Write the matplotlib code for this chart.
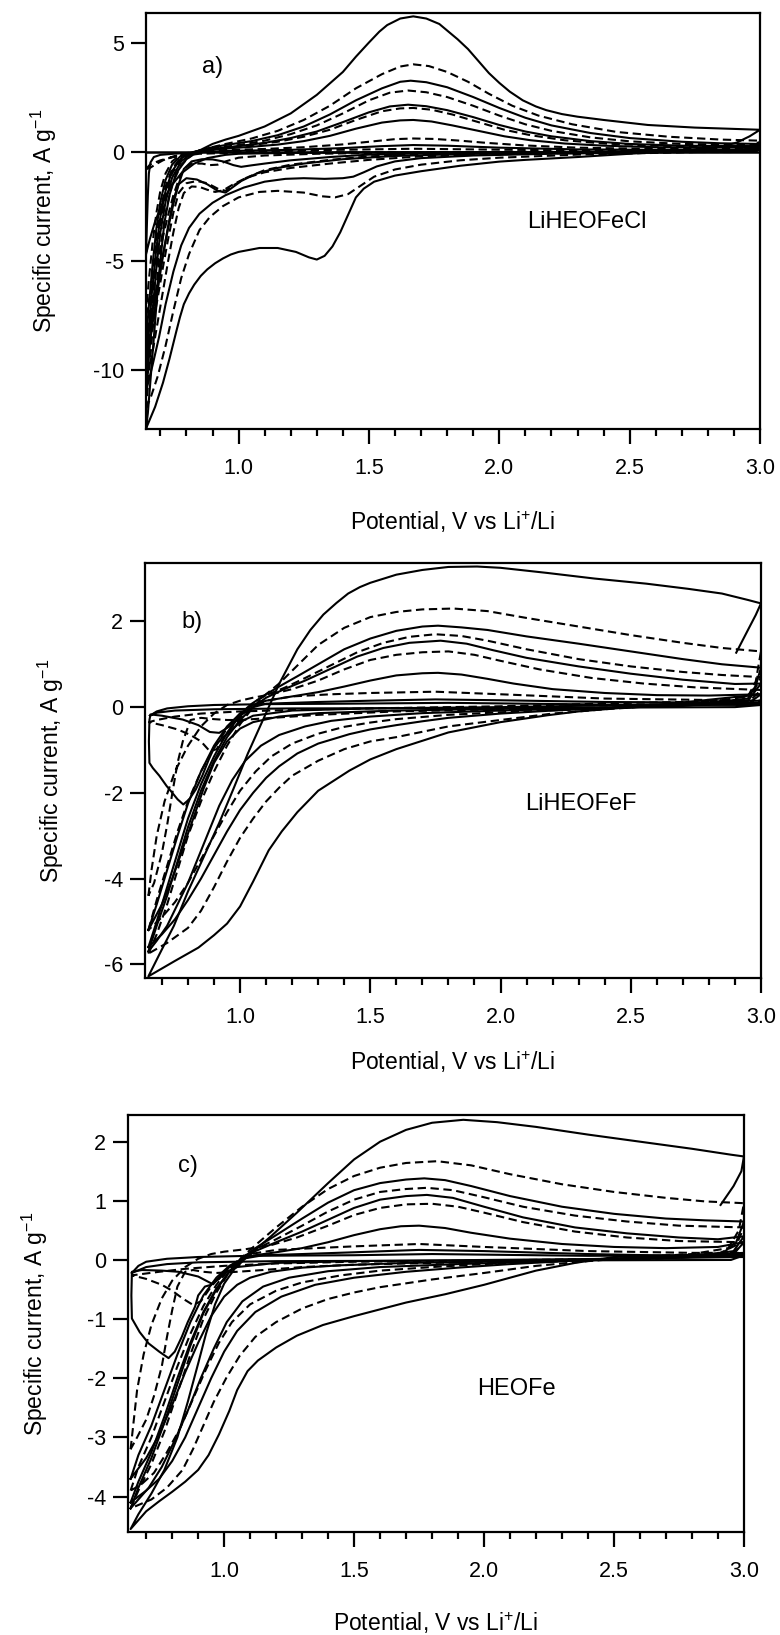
import numpy as np
import matplotlib
matplotlib.use('Agg')
import matplotlib.pyplot as plt
from matplotlib.ticker import MultipleLocator

plt.rcParams['font.family'] = ['Liberation Sans', 'DejaVu Sans']
plt.rcParams['axes.unicode_minus'] = False
plt.rcParams['mathtext.fontset'] = 'custom'
plt.rcParams['mathtext.rm'] = 'Liberation Sans'

# ---------------------------------------------------------
# Panel a) LiHEOFeCl : (potential V, specific current A/g) per cycle
# ---------------------------------------------------------
A_S1 = [(0.645, -12.7), (0.652, -12.0), (0.66, -10.8), (0.672, -9.0), (0.685, -7.0), (0.70, -5.0), (0.715, -3.3),
        (0.735, -2.0), (0.76, -1.0), (0.80, -0.35), (0.85, 0.05), (0.90, 0.35), (0.95, 0.55), (1.00, 0.72),
        (1.10, 1.15), (1.20, 1.75), (1.30, 2.6), (1.40, 3.65), (1.45, 4.35), (1.50, 5.0), (1.54, 5.5), (1.57, 5.8),
        (1.62, 6.1), (1.67, 6.2), (1.72, 6.1), (1.77, 5.85), (1.80, 5.55), (1.84, 5.15), (1.88, 4.7), (1.92, 4.15),
        (1.96, 3.6), (2.00, 3.15), (2.04, 2.75), (2.09, 2.35), (2.14, 2.07), (2.18, 1.9), (2.24, 1.72), (2.30, 1.6),
        (2.40, 1.45), (2.57, 1.22), (2.75, 1.1), (2.90, 1.04), (3.00, 1.0),
        (2.96, 0.7), (2.91, 0.41), (2.85, 0.22), (2.7, 0.05), (2.5, -0.1), (2.3, -0.25), (2.1, -0.38), (2.0, -0.46),
        (1.85, -0.65), (1.7, -0.9), (1.6, -1.1), (1.52, -1.38), (1.48, -1.7), (1.45, -2.1), (1.42, -2.9),
        (1.39, -3.7), (1.36, -4.35), (1.33, -4.78), (1.30, -4.95), (1.27, -4.85), (1.22, -4.6), (1.15, -4.42),
        (1.08, -4.42), (1.00, -4.6), (0.97, -4.72), (0.94, -4.9), (0.91, -5.12), (0.88, -5.4), (0.855, -5.7),
        (0.83, -6.1), (0.81, -6.5), (0.79, -7.0), (0.775, -7.6), (0.76, -8.3), (0.735, -9.5), (0.71, -10.6),
        (0.68, -11.7), (0.645, -12.7)]
A_D1 = [(0.645, -11.8), (0.655, -10.4), (0.668, -8.5), (0.685, -6.2), (0.70, -4.4), (0.72, -2.8), (0.745, -1.5),
        (0.78, -0.6), (0.82, -0.15), (0.87, 0.12), (0.95, 0.35), (1.05, 0.6), (1.15, 0.95), (1.25, 1.45),
        (1.35, 2.1), (1.45, 2.9), (1.55, 3.55), (1.62, 3.9), (1.67, 4.0), (1.73, 3.92), (1.80, 3.65), (1.88, 3.2),
        (1.96, 2.65), (2.05, 2.1), (2.15, 1.65), (2.28, 1.25), (2.45, 0.9), (2.65, 0.68), (2.85, 0.55), (3.00, 0.5),
        (2.97, 0.15), (2.85, 0.0), (2.6, -0.06), (2.3, -0.14), (2.0, -0.28), (1.85, -0.4), (1.7, -0.6), (1.6, -0.82),
        (1.52, -1.15), (1.47, -1.55), (1.42, -1.95), (1.37, -2.1), (1.32, -2.05), (1.25, -1.88), (1.15, -1.8),
        (1.08, -1.85), (1.00, -2.1), (0.94, -2.5), (0.89, -3.0), (0.85, -3.6), (0.81, -4.7), (0.78, -5.8),
        (0.75, -7.3), (0.72, -8.9), (0.69, -10.3), (0.665, -11.2), (0.645, -11.8)]
A_S2 = [(0.645, -11.0), (0.655, -9.6), (0.668, -7.6), (0.685, -5.3), (0.70, -3.7), (0.72, -2.3), (0.745, -1.2),
        (0.78, -0.45), (0.82, -0.08), (0.88, 0.15), (0.95, 0.3), (1.05, 0.48), (1.15, 0.75), (1.25, 1.15),
        (1.35, 1.7), (1.45, 2.35), (1.55, 2.9), (1.62, 3.2), (1.66, 3.25), (1.72, 3.18), (1.80, 2.95), (1.90, 2.5),
        (2.00, 2.0), (2.10, 1.55), (2.20, 1.2), (2.35, 0.85), (2.50, 0.62), (2.70, 0.45), (2.85, 0.38), (3.00, 0.35),
        (2.97, 0.08), (2.8, 0.0), (2.5, -0.05), (2.2, -0.1), (1.9, -0.18), (1.7, -0.3), (1.6, -0.45), (1.53, -0.68),
        (1.48, -0.95), (1.44, -1.15), (1.40, -1.22), (1.33, -1.25), (1.25, -1.22), (1.18, -1.25), (1.10, -1.38),
        (1.02, -1.65), (0.95, -2.0), (0.90, -2.35), (0.85, -2.85), (0.81, -3.5), (0.78, -4.3), (0.75, -5.5),
        (0.72, -7.0), (0.695, -8.5), (0.67, -9.8), (0.645, -11.0)]
A_D2 = [(0.645, -10.5), (0.655, -9.0), (0.668, -7.0), (0.685, -4.9), (0.70, -3.3), (0.72, -2.0), (0.745, -1.0),
        (0.78, -0.35), (0.83, 0.0), (0.90, 0.15), (1.00, 0.3), (1.10, 0.5), (1.20, 0.8), (1.30, 1.2), (1.40, 1.75),
        (1.50, 2.35), (1.58, 2.7), (1.65, 2.8), (1.72, 2.72), (1.80, 2.5), (1.90, 2.1), (2.00, 1.65), (2.10, 1.25),
        (2.20, 0.95), (2.35, 0.65), (2.50, 0.47), (2.70, 0.35), (3.00, 0.3),
        (2.96, 0.05), (2.7, -0.02), (2.3, -0.06), (2.0, -0.12), (1.7, -0.22), (1.5, -0.38), (1.35, -0.55),
        (1.2, -0.75), (1.1, -0.95), (1.03, -1.2), (0.98, -1.5), (0.94, -1.78), (0.91, -1.85), (0.88, -1.75),
        (0.85, -1.62), (0.82, -1.6), (0.79, -1.9), (0.77, -2.6), (0.75, -3.7), (0.73, -5.0), (0.71, -6.4),
        (0.69, -7.8), (0.67, -9.2), (0.645, -10.5)]
A_S3 = [(0.645, -10.0), (0.655, -8.4), (0.668, -6.4), (0.685, -4.4), (0.70, -3.0), (0.72, -1.8), (0.745, -0.9),
        (0.78, -0.3), (0.84, 0.02), (0.90, 0.12), (1.00, 0.25), (1.10, 0.4), (1.20, 0.62), (1.30, 0.92),
        (1.40, 1.35), (1.50, 1.8), (1.58, 2.07), (1.65, 2.15), (1.72, 2.08), (1.80, 1.9), (1.90, 1.58), (2.00, 1.22),
        (2.10, 0.92), (2.20, 0.7), (2.35, 0.48), (2.50, 0.35), (2.70, 0.27), (3.00, 0.25),
        (2.96, 0.04), (2.6, -0.02), (2.2, -0.05), (1.9, -0.1), (1.6, -0.2), (1.4, -0.35), (1.25, -0.55),
        (1.15, -0.75), (1.07, -1.0), (1.01, -1.35), (0.97, -1.7), (0.95, -1.88), (0.92, -1.8), (0.88, -1.5),
        (0.84, -1.28), (0.80, -1.22), (0.77, -1.5), (0.75, -2.2), (0.73, -3.4), (0.71, -4.8), (0.69, -6.3),
        (0.67, -7.9), (0.645, -10.0)]
A_D3 = [(0.645, -9.4), (0.655, -7.8), (0.67, -5.8), (0.685, -4.0), (0.70, -2.7), (0.72, -1.6), (0.745, -0.8),
        (0.78, -0.25), (0.85, 0.05), (0.95, 0.18), (1.05, 0.3), (1.15, 0.45), (1.25, 0.68), (1.35, 1.0),
        (1.45, 1.45), (1.55, 1.85), (1.62, 1.98), (1.67, 2.0), (1.74, 1.92), (1.82, 1.7), (1.92, 1.35), (2.02, 1.0),
        (2.12, 0.75), (2.25, 0.52), (2.40, 0.37), (2.60, 0.27), (3.00, 0.2),
        (2.95, 0.03), (2.5, -0.02), (2.0, -0.06), (1.7, -0.12), (1.5, -0.22), (1.35, -0.38), (1.2, -0.6),
        (1.1, -0.85), (1.03, -1.2), (0.98, -1.55), (0.95, -1.8), (0.92, -1.7), (0.88, -1.45), (0.84, -1.35),
        (0.80, -1.45), (0.77, -1.9), (0.75, -2.8), (0.73, -4.0), (0.71, -5.3), (0.69, -6.7), (0.67, -8.0),
        (0.645, -9.4)]
A_S4 = [(0.645, -8.8), (0.655, -7.2), (0.67, -5.2), (0.685, -3.5), (0.70, -2.3), (0.72, -1.3), (0.745, -0.6),
        (0.78, -0.18), (0.85, 0.05), (0.95, 0.14), (1.05, 0.22), (1.15, 0.32), (1.25, 0.48), (1.35, 0.72),
        (1.45, 1.05), (1.55, 1.33), (1.62, 1.43), (1.67, 1.45), (1.74, 1.38), (1.82, 1.2), (1.92, 0.95), (2.02, 0.7),
        (2.12, 0.52), (2.25, 0.37), (2.40, 0.27), (2.60, 0.2), (3.00, 0.18),
        (2.95, 0.03), (2.5, -0.01), (2.0, -0.04), (1.7, -0.08), (1.5, -0.14), (1.35, -0.25), (1.2, -0.4),
        (1.1, -0.55), (1.05, -0.63), (1.01, -0.7), (0.98, -0.62), (0.94, -0.45), (0.90, -0.36), (0.86, -0.35),
        (0.82, -0.45), (0.79, -0.8), (0.77, -1.5), (0.75, -2.4), (0.73, -3.5), (0.71, -4.7), (0.69, -6.0),
        (0.67, -7.3), (0.645, -8.8)]
A_D4 = [(0.645, -7.5), (0.655, -6.0), (0.67, -4.2), (0.685, -2.8), (0.70, -1.8), (0.72, -1.0), (0.745, -0.45),
        (0.78, -0.12), (0.85, 0.03), (0.95, 0.07), (1.10, 0.12), (1.25, 0.2), (1.40, 0.33), (1.50, 0.45),
        (1.60, 0.57), (1.67, 0.6), (1.75, 0.58), (1.85, 0.5), (1.95, 0.4), (2.10, 0.28), (2.30, 0.18), (2.60, 0.12),
        (3.00, 0.12),
        (2.95, 0.02), (2.0, -0.02), (1.6, -0.05), (1.3, -0.1), (1.1, -0.18), (1.0, -0.28), (0.95, -0.45),
        (0.92, -0.6), (0.89, -0.62), (0.86, -0.55), (0.82, -0.55), (0.79, -0.8), (0.77, -1.3), (0.75, -2.0),
        (0.73, -2.9), (0.71, -3.9), (0.69, -5.0), (0.67, -6.1), (0.645, -7.5)]
A_S5 = [(0.645, -4.7), (0.648, -3.5), (0.652, -2.0), (0.656, -1.0), (0.662, -0.5), (0.675, -0.25), (0.70, -0.15),
        (0.75, -0.1), (0.85, -0.03), (0.95, 0.03), (1.2, 0.08), (1.4, 0.16), (1.55, 0.25), (1.67, 0.3), (1.8, 0.27),
        (2.0, 0.18), (2.3, 0.1), (2.6, 0.08), (3.0, 0.08),
        (2.95, 0.0), (2.0, -0.02), (1.5, -0.03), (1.2, -0.06), (1.0, -0.1), (0.95, -0.15), (0.88, -0.3),
        (0.83, -0.55), (0.78, -1.0), (0.74, -1.6), (0.71, -2.3), (0.68, -3.2), (0.66, -4.0), (0.645, -4.7)]
A_D5 = [(0.645, -0.8), (0.66, -0.75), (0.68, -0.6), (0.71, -0.4), (0.75, -0.22), (0.8, -0.1), (0.9, 0.0),
        (1.2, 0.05), (1.5, 0.1), (1.67, 0.13), (1.9, 0.1), (2.3, 0.05), (3.0, 0.05),
        (2.9, -0.02), (1.5, -0.03), (1.0, -0.05), (0.85, -0.1), (0.75, -0.25), (0.70, -0.4), (0.66, -0.6),
        (0.645, -0.8)]

# ---------------------------------------------------------
# Panel b) LiHEOFeF
# ---------------------------------------------------------
B_S1 = [(3.0, 0.3), (2.75, 0.14), (2.6, 0.05), (2.46, -0.02), (2.3, -0.1), (2.18, -0.19), (2.0, -0.35), (1.8, -0.59),
        (1.6, -0.98), (1.5, -1.22), (1.42, -1.48), (1.3, -1.95), (1.22, -2.45), (1.16, -2.9), (1.11, -3.34),
        (1.05, -4.07), (1.0, -4.65), (0.95, -5.05), (0.9, -5.32), (0.84, -5.61), (0.75, -5.92), (0.648, -6.28),
        (0.69, -5.77), (0.746, -5.1), (0.80, -4.3), (0.86, -3.5), (0.92, -2.7), (0.975, -1.9), (1.03, -1.08),
        (1.09, -0.27), (1.15, 0.54), (1.22, 1.35), (1.27, 1.8), (1.32, 2.16), (1.37, 2.43), (1.415, 2.65),
        (1.46, 2.8), (1.5, 2.9), (1.6, 3.09), (1.7, 3.2), (1.8, 3.27), (1.91, 3.28), (2.0, 3.25), (2.18, 3.13),
        (2.36, 3.0), (2.56, 2.88), (2.72, 2.76), (2.85, 2.65), (2.95, 2.5), (3.0, 2.42), (2.98, 2.15), (2.95, 1.8),
        (2.905, 1.27)]
B_D1 = [(0.648, -5.75), (0.68, -5.3), (0.72, -4.6), (0.76, -3.8), (0.80, -3.0), (0.85, -2.2), (0.90, -1.5),
        (0.95, -0.9), (1.00, -0.4), (1.05, 0.0), (1.10, 0.3), (1.15, 0.55), (1.20, 0.85), (1.30, 1.45), (1.40, 1.85),
        (1.50, 2.1), (1.60, 2.22), (1.70, 2.28), (1.82, 2.3), (1.95, 2.24), (2.10, 2.08), (2.30, 1.88), (2.50, 1.68),
        (2.70, 1.5), (2.85, 1.38), (3.00, 1.3),
        (2.98, 0.6), (2.95, 0.25), (2.8, 0.12), (2.6, 0.03), (2.4, -0.05), (2.2, -0.15), (2.0, -0.3), (1.8, -0.45),
        (1.6, -0.7), (1.5, -0.8), (1.4, -0.98), (1.3, -1.25), (1.2, -1.6), (1.15, -1.88), (1.10, -2.2),
        (1.05, -2.6), (1.00, -3.05), (0.95, -3.6), (0.90, -4.2), (0.85, -4.75), (0.80, -5.15), (0.72, -5.5),
        (0.648, -5.75)]
B_S2 = [(0.648, -5.6), (0.68, -5.0), (0.72, -4.2), (0.76, -3.4), (0.80, -2.6), (0.85, -1.8), (0.90, -1.15),
        (0.95, -0.6), (1.00, -0.2), (1.05, 0.1), (1.10, 0.3), (1.15, 0.48), (1.22, 0.72), (1.30, 1.0), (1.40, 1.35),
        (1.50, 1.6), (1.60, 1.78), (1.70, 1.88), (1.76, 1.9), (1.85, 1.86), (1.95, 1.8), (2.10, 1.65), (2.30, 1.48),
        (2.50, 1.3), (2.70, 1.12), (2.85, 1.0), (3.00, 0.92),
        (2.98, 0.5), (2.95, 0.2), (2.8, 0.1), (2.5, 0.0), (2.2, -0.08), (2.0, -0.15), (1.8, -0.25), (1.7, -0.33),
        (1.6, -0.42), (1.5, -0.52), (1.42, -0.63), (1.3, -0.85), (1.22, -1.08), (1.15, -1.38), (1.10, -1.65),
        (1.05, -2.0), (1.00, -2.4), (0.95, -2.9), (0.90, -3.45), (0.85, -4.0), (0.80, -4.5), (0.75, -4.95),
        (0.70, -5.3), (0.648, -5.6)]
B_D2 = [(0.648, -5.2), (0.68, -4.5), (0.72, -3.7), (0.76, -2.9), (0.80, -2.2), (0.85, -1.5), (0.90, -0.95),
        (0.95, -0.5), (1.00, -0.15), (1.05, 0.1), (1.10, 0.28), (1.17, 0.45), (1.25, 0.68), (1.35, 0.98),
        (1.45, 1.28), (1.55, 1.5), (1.65, 1.64), (1.75, 1.7), (1.85, 1.66), (1.95, 1.55), (2.10, 1.35), (2.30, 1.12),
        (2.50, 0.95), (2.70, 0.82), (2.85, 0.75), (3.00, 0.7),
        (2.97, 0.35), (2.9, 0.12), (2.6, 0.02), (2.3, -0.05), (2.0, -0.12), (1.8, -0.18), (1.6, -0.28), (1.5, -0.36),
        (1.4, -0.46), (1.3, -0.62), (1.2, -0.85), (1.12, -1.15), (1.06, -1.5), (1.00, -1.95), (0.95, -2.45),
        (0.90, -3.0), (0.85, -3.55), (0.80, -4.1), (0.75, -4.55), (0.70, -4.9), (0.648, -5.2)]
B_S3 = [(0.648, -5.7), (0.68, -5.1), (0.72, -4.4), (0.76, -3.6), (0.80, -2.8), (0.85, -1.95), (0.90, -1.25),
        (0.95, -0.7), (1.00, -0.3), (1.05, 0.0), (1.10, 0.22), (1.17, 0.42), (1.25, 0.62), (1.35, 0.9), (1.45, 1.18),
        (1.55, 1.38), (1.65, 1.5), (1.77, 1.55), (1.87, 1.48), (1.97, 1.33), (2.10, 1.15), (2.30, 0.95),
        (2.50, 0.78), (2.70, 0.64), (2.90, 0.54), (3.00, 0.55),
        (2.95, 0.15), (2.7, 0.03), (2.3, -0.03), (2.0, -0.08), (1.7, -0.14), (1.5, -0.22), (1.35, -0.32),
        (1.25, -0.45), (1.15, -0.65), (1.08, -0.9), (1.02, -1.25), (0.97, -1.7), (0.92, -2.3), (0.88, -2.9),
        (0.84, -3.5), (0.80, -4.1), (0.76, -4.6), (0.72, -5.1), (0.68, -5.45), (0.648, -5.7)]
B_D3 = [(0.648, -4.4), (0.66, -3.8), (0.68, -3.0), (0.71, -2.2), (0.75, -1.5), (0.80, -0.9), (0.85, -0.45),
        (0.90, -0.15), (0.95, 0.05), (1.00, 0.15), (1.05, 0.22), (1.12, 0.3), (1.20, 0.42), (1.30, 0.62),
        (1.40, 0.88), (1.50, 1.1), (1.60, 1.22), (1.70, 1.28), (1.80, 1.3), (1.90, 1.22), (2.00, 1.08), (2.15, 0.88),
        (2.35, 0.68), (2.55, 0.55), (2.75, 0.46), (3.00, 0.4),
        (2.95, 0.1), (2.5, 0.0), (2.0, -0.05), (1.6, -0.1), (1.3, -0.18), (1.1, -0.26), (1.0, -0.3), (0.95, -0.3),
        (0.9, -0.28), (0.85, -0.25), (0.81, -0.3), (0.78, -0.8), (0.76, -1.3), (0.74, -2.0), (0.72, -2.75),
        (0.70, -3.4), (0.67, -4.1), (0.648, -4.4)]
B_S4 = [(0.648, -5.2), (0.68, -4.6), (0.72, -3.8), (0.76, -3.0), (0.80, -2.25), (0.85, -1.5), (0.90, -0.9),
        (0.95, -0.45), (1.00, -0.15), (1.05, 0.05), (1.10, 0.15), (1.20, 0.25), (1.30, 0.35), (1.40, 0.48),
        (1.50, 0.62), (1.60, 0.74), (1.70, 0.79), (1.76, 0.8), (1.85, 0.76), (1.95, 0.66), (2.05, 0.55),
        (2.20, 0.42), (2.40, 0.33), (2.60, 0.28), (2.80, 0.27), (3.00, 0.3),
        (2.95, 0.08), (2.5, 0.0), (2.0, -0.04), (1.6, -0.08), (1.3, -0.14), (1.15, -0.22), (1.05, -0.35),
        (1.00, -0.5), (0.95, -0.8), (0.90, -1.3), (0.86, -1.9), (0.82, -2.6), (0.78, -3.3), (0.74, -4.0),
        (0.70, -4.6), (0.648, -5.2)]
B_D5 = [(3.0, 0.15), (2.5, 0.1), (2.0, 0.02), (1.5, -0.03), (1.3, -0.05), (1.0, -0.1), (0.85, -0.15), (0.75, -0.22),
        (0.68, -0.3), (0.65, -0.35), (0.70, -0.42), (0.76, -0.52), (0.81, -0.65), (0.85, -0.8), (0.884, -1.03),
        (0.91, -0.98), (0.95, -0.6), (1.00, -0.25), (1.05, 0.0), (1.10, 0.15), (1.20, 0.25), (1.35, 0.3),
        (1.50, 0.33), (1.75, 0.36), (2.00, 0.3), (2.40, 0.2), (3.00, 0.15)]
B_S5 = [(3.0, 0.1), (2.5, 0.05), (2.0, 0.0), (1.5, -0.03), (1.2, -0.08), (1.05, -0.2), (1.00, -0.35), (0.96, -0.58),
        (0.93, -0.72), (0.90, -0.95), (0.88, -1.22), (0.855, -1.6), (0.83, -1.92), (0.805, -2.15), (0.782, -2.27),
        (0.76, -2.15), (0.74, -2.0), (0.718, -1.84), (0.69, -1.6), (0.665, -1.42), (0.652, -1.3), (0.650, -0.8),
        (0.652, -0.3), (0.656, -0.17), (0.70, -0.2), (0.78, -0.29), (0.84, -0.42), (0.884, -0.58), (0.92, -0.6),
        (0.96, -0.45), (1.00, -0.2), (1.05, 0.0), (1.10, 0.08), (1.30, 0.12), (1.50, 0.15), (1.75, 0.18),
        (2.00, 0.16), (2.40, 0.12), (3.00, 0.1)]
B_S6 = [(0.654, -0.2), (0.68, -0.1), (0.72, -0.03), (0.80, 0.02), (0.90, 0.05), (1.10, 0.07), (1.40, 0.08),
        (1.80, 0.1), (2.40, 0.06), (3.00, 0.05), (2.90, 0.0), (2.00, -0.02), (1.20, -0.03), (0.90, -0.05),
        (0.75, -0.08), (0.68, -0.13), (0.654, -0.2)]

# ---------------------------------------------------------
# Panel c) HEOFe
# ---------------------------------------------------------
C_S1 = [(3.0, 0.1), (2.75, 0.08), (2.5, 0.05), (2.35, -0.05), (2.2, -0.18), (2.0, -0.42), (1.85, -0.58), (1.7, -0.72),
        (1.5, -0.95), (1.38, -1.1), (1.28, -1.28), (1.2, -1.48), (1.13, -1.7), (1.09, -1.88), (1.05, -2.2),
        (1.02, -2.55), (0.98, -2.95), (0.94, -3.3), (0.9, -3.55), (0.85, -3.75), (0.8, -3.92), (0.75, -4.08),
        (0.7, -4.25), (0.64, -4.55),
        (0.67, -4.3), (0.72, -3.95), (0.77, -3.55), (0.82, -3.0), (0.86, -2.4), (0.90, -1.75), (0.93, -1.25),
        (0.965, -0.75), (1.00, -0.4), (1.04, -0.15), (1.09, 0.06), (1.18, 0.4), (1.28, 0.8), (1.40, 1.3),
        (1.50, 1.7), (1.60, 2.0), (1.70, 2.2), (1.80, 2.32), (1.92, 2.37), (2.05, 2.33), (2.20, 2.25), (2.40, 2.12),
        (2.60, 2.0), (2.80, 1.88), (2.95, 1.78), (3.00, 1.75), (2.99, 1.5), (2.96, 1.25), (2.91, 0.93)]
C_D1 = [(0.64, -4.2), (0.67, -3.9), (0.72, -3.45), (0.77, -2.9), (0.82, -2.25), (0.87, -1.6), (0.92, -1.0),
        (0.97, -0.55), (1.02, -0.2), (1.07, 0.05), (1.12, 0.25), (1.20, 0.55), (1.30, 0.9), (1.40, 1.2),
        (1.50, 1.42), (1.60, 1.56), (1.70, 1.64), (1.82, 1.67), (1.95, 1.6), (2.10, 1.45), (2.30, 1.28),
        (2.50, 1.15), (2.70, 1.05), (2.85, 0.99), (3.00, 0.96),
        (2.98, 0.5), (2.94, 0.2), (2.8, 0.1), (2.6, 0.05), (2.4, -0.02), (2.2, -0.1), (2.0, -0.22), (1.8, -0.33),
        (1.6, -0.46), (1.5, -0.55), (1.4, -0.66), (1.3, -0.82), (1.2, -1.05), (1.12, -1.3), (1.06, -1.62),
        (1.01, -1.98), (0.96, -2.4), (0.92, -2.8), (0.88, -3.2), (0.84, -3.55), (0.78, -3.85), (0.72, -4.05),
        (0.64, -4.2)]
C_S2 = [(0.64, -4.1), (0.67, -3.75), (0.72, -3.25), (0.77, -2.65), (0.82, -2.0), (0.87, -1.4), (0.92, -0.88),
        (0.97, -0.48), (1.02, -0.2), (1.07, 0.03), (1.12, 0.2), (1.20, 0.42), (1.30, 0.7), (1.40, 0.97),
        (1.50, 1.18), (1.60, 1.3), (1.70, 1.36), (1.77, 1.38), (1.85, 1.35), (1.95, 1.25), (2.10, 1.08),
        (2.30, 0.9), (2.50, 0.78), (2.70, 0.7), (2.85, 0.67), (3.00, 0.65),
        (2.97, 0.3), (2.92, 0.12), (2.7, 0.05), (2.4, 0.0), (2.1, -0.07), (1.9, -0.13), (1.7, -0.2), (1.5, -0.3),
        (1.35, -0.42), (1.22, -0.62), (1.12, -0.88), (1.05, -1.2), (1.00, -1.55), (0.95, -2.0), (0.90, -2.5),
        (0.85, -3.0), (0.80, -3.4), (0.75, -3.7), (0.70, -3.9), (0.64, -4.1)]
C_D2 = [(0.64, -3.9), (0.67, -3.5), (0.72, -3.0), (0.77, -2.4), (0.82, -1.8), (0.87, -1.25), (0.92, -0.78),
        (0.97, -0.42), (1.02, -0.15), (1.07, 0.05), (1.13, 0.2), (1.20, 0.35), (1.30, 0.58), (1.40, 0.82),
        (1.50, 1.02), (1.60, 1.15), (1.70, 1.2), (1.78, 1.22), (1.88, 1.18), (2.00, 1.06), (2.15, 0.9),
        (2.35, 0.75), (2.55, 0.65), (2.75, 0.58), (3.00, 0.55),
        (2.97, 0.25), (2.9, 0.1), (2.6, 0.03), (2.3, -0.02), (2.0, -0.07), (1.8, -0.12), (1.6, -0.18),
        (1.45, -0.26), (1.3, -0.38), (1.2, -0.52), (1.1, -0.75), (1.03, -1.05), (0.98, -1.4), (0.93, -1.85),
        (0.88, -2.35), (0.83, -2.85), (0.78, -3.25), (0.73, -3.6), (0.68, -3.8), (0.64, -3.9)]
C_S3 = [(0.64, -4.2), (0.67, -3.85), (0.72, -3.35), (0.77, -2.75), (0.82, -2.1), (0.87, -1.45), (0.92, -0.9),
        (0.97, -0.5), (1.02, -0.2), (1.07, 0.0), (1.12, 0.15), (1.20, 0.3), (1.30, 0.48), (1.40, 0.68),
        (1.50, 0.88), (1.60, 1.02), (1.70, 1.08), (1.78, 1.1), (1.88, 1.05), (2.00, 0.9), (2.15, 0.72),
        (2.35, 0.55), (2.55, 0.45), (2.75, 0.38), (2.90, 0.35), (3.00, 0.4),
        (2.96, 0.15), (2.8, 0.05), (2.5, 0.01), (2.2, -0.03), (1.9, -0.07), (1.6, -0.12), (1.4, -0.19),
        (1.25, -0.3), (1.15, -0.45), (1.07, -0.7), (1.01, -1.05), (0.96, -1.5), (0.91, -2.0), (0.86, -2.55),
        (0.81, -3.05), (0.76, -3.5), (0.71, -3.85), (0.67, -4.05), (0.64, -4.2)]
C_D3 = [(0.64, -3.2), (0.65, -2.8), (0.665, -2.2), (0.69, -1.6), (0.72, -1.1), (0.76, -0.65), (0.80, -0.35),
        (0.85, -0.12), (0.90, 0.02), (0.95, 0.1), (1.00, 0.14), (1.08, 0.18), (1.18, 0.25), (1.28, 0.38),
        (1.40, 0.58), (1.50, 0.76), (1.60, 0.88), (1.70, 0.94), (1.80, 0.95), (1.90, 0.9), (2.00, 0.8),
        (2.15, 0.64), (2.35, 0.48), (2.55, 0.38), (2.75, 0.32), (3.00, 0.3),
        (2.95, 0.08), (2.6, 0.01), (2.2, -0.02), (1.8, -0.05), (1.5, -0.08), (1.3, -0.12), (1.15, -0.17),
        (1.05, -0.2), (0.97, -0.22), (0.92, -0.2), (0.88, -0.17), (0.85, -0.2), (0.82, -0.45), (0.80, -0.85),
        (0.78, -1.3), (0.76, -1.8), (0.73, -2.3), (0.70, -2.7), (0.665, -3.0), (0.64, -3.2)]
C_S4 = [(0.64, -3.7), (0.67, -3.3), (0.72, -2.8), (0.77, -2.2), (0.82, -1.6), (0.87, -1.05), (0.92, -0.6),
        (0.97, -0.3), (1.02, -0.1), (1.07, 0.02), (1.12, 0.08), (1.20, 0.13), (1.30, 0.2), (1.40, 0.3),
        (1.50, 0.42), (1.60, 0.52), (1.68, 0.57), (1.75, 0.58), (1.85, 0.54), (1.95, 0.46), (2.10, 0.36),
        (2.30, 0.27), (2.50, 0.22), (2.70, 0.2), (2.90, 0.22), (3.00, 0.3),
        (2.96, 0.1), (2.7, 0.03), (2.3, 0.0), (2.0, -0.03), (1.7, -0.05), (1.45, -0.09), (1.3, -0.13),
        (1.18, -0.2), (1.1, -0.3), (1.05, -0.42), (1.00, -0.62), (0.95, -0.95), (0.90, -1.4), (0.85, -1.9),
        (0.80, -2.45), (0.75, -2.95), (0.70, -3.35), (0.64, -3.7)]
C_D5 = [(3.0, 0.12), (2.5, 0.02), (2.0, -0.01), (1.5, -0.03), (1.2, -0.06), (1.0, -0.1), (0.85, -0.15), (0.75, -0.2),
        (0.68, -0.24), (0.645, -0.26), (0.70, -0.32), (0.76, -0.42), (0.80, -0.52), (0.84, -0.65), (0.88, -0.76),
        (0.91, -0.7), (0.95, -0.45), (1.00, -0.2), (1.05, -0.02), (1.10, 0.1), (1.20, 0.17), (1.35, 0.2),
        (1.50, 0.23), (1.75, 0.27), (2.00, 0.22), (2.40, 0.15), (2.80, 0.12), (3.00, 0.12)]
C_S5 = [(3.0, 0.05), (2.5, 0.02), (2.0, 0.0), (1.5, -0.02), (1.2, -0.05), (1.05, -0.12), (1.00, -0.22), (0.97, -0.35),
        (0.95, -0.42), (0.926, -0.45), (0.90, -0.6), (0.888, -0.79), (0.86, -1.05), (0.837, -1.3), (0.81, -1.55),
        (0.786, -1.66), (0.75, -1.55), (0.709, -1.41), (0.675, -1.22), (0.645, -0.99), (0.643, -0.6), (0.645, -0.2),
        (0.684, -0.17), (0.76, -0.18), (0.824, -0.2), (0.90, -0.28), (0.952, -0.4), (0.98, -0.32), (1.02, -0.12),
        (1.07, 0.02), (1.15, 0.08), (1.30, 0.1), (1.50, 0.13), (1.75, 0.17), (2.00, 0.15), (2.40, 0.1), (3.00, 0.05)]
C_S6 = [(0.645, -0.22), (0.67, -0.1), (0.70, -0.03), (0.78, 0.02), (0.90, 0.05), (1.10, 0.07), (1.50, 0.08),
        (1.80, 0.1), (2.40, 0.07), (3.00, 0.08), (2.95, 0.0), (2.00, -0.01), (1.20, -0.02), (0.90, -0.04),
        (0.78, -0.07), (0.70, -0.12), (0.645, -0.22)]

A_TICKS = [-10, -5, 0, 5]
B_TICKS = [-6, -4, -2, 0, 2]
C_TICKS = [-4, -3, -2, -1, 0, 1, 2]

DASH = (0, (4.0, 2.2))


def draw_panel(ax, loops, xlim, ylim, yticks, tag, tag_xy, name, name_xy, ylab_x, xlab_y, zero_line=False):
    for pts, dashed in loops:
        v, i = np.array(pts).T
        ax.plot(v, i, color='k', lw=1.5, ls=DASH if dashed else '-', solid_joinstyle='round')
    if zero_line:
        ax.axhline(0, color='k', lw=1.8)
    ax.set_xlim(*xlim)
    ax.set_ylim(*ylim)
    ax.set_yticks(yticks)
    ax.xaxis.set_major_locator(MultipleLocator(0.5))
    ax.xaxis.set_minor_locator(MultipleLocator(0.1))
    ax.xaxis.set_major_formatter(plt.FuncFormatter(lambda v, p: f'{v:.1f}'))
    ax.tick_params(axis='both', which='major', direction='out', length=11, width=1.6,
                   labelsize=15.5, colors='k')
    ax.tick_params(axis='x', which='major', pad=10)
    ax.tick_params(axis='y', which='major', pad=5)
    ax.tick_params(axis='x', which='minor', direction='out', length=5, width=1.6)
    for sp in ax.spines.values():
        sp.set_linewidth(1.6)
    ax.text(*tag_xy, tag, fontsize=17, ha='center', va='center')
    ax.text(*name_xy, name, fontsize=17, ha='center', va='center')
    ax.set_ylabel('Specific current, A g$^{\\mathregular{-1}}$', fontsize=16.5)
    ax.set_xlabel('Potential, V vs Li$^{\\mathregular{+}}$/Li', fontsize=16.5)
    ax.yaxis.set_label_coords(ylab_x, 0.5)
    ax.xaxis.set_label_coords(0.5, xlab_y)
    ax.xaxis.label.set_va('center')
    ax.yaxis.label.set_va('center')


fig = plt.figure(figsize=(7.8, 16.35), dpi=100)

ax_a = fig.add_axes([0.1872, 0.7376, 0.7872, 0.2544])
draw_panel(ax_a,
           [(A_S1, False), (A_D1, True), (A_S2, False), (A_D2, True), (A_S3, False),
            (A_D3, True), (A_S4, False), (A_D4, True), (A_S5, False), (A_D5, True)],
           (0.645, 3.0), (-12.72, 6.35), A_TICKS,
           'a)', (0.9, 3.9), 'LiHEOFeCl', (2.335, -3.25), -0.166, -0.224, zero_line=True)

ax_b = fig.add_axes([0.1859, 0.4018, 0.7897, 0.2538])
draw_panel(ax_b,
           [(B_S1, False), (B_D1, True), (B_S2, False), (B_D2, True), (B_S3, False),
            (B_D3, True), (B_S4, False), (B_D5, True), (B_S5, False), (B_S6, False)],
           (0.635, 3.0), (-6.32, 3.36), B_TICKS,
           'b)', (0.816, 1.98), 'LiHEOFeF', (2.31, -2.25), -0.153, -0.202)

ax_c = fig.add_axes([0.1641, 0.0630, 0.7897, 0.2550])
draw_panel(ax_c,
           [(C_S1, False), (C_D1, True), (C_S2, False), (C_D2, True), (C_S3, False),
            (C_D3, True), (C_S4, False), (C_D5, True), (C_S5, False), (C_S6, False)],
           (0.63, 3.0), (-4.6, 2.45), C_TICKS,
           'c)', (0.86, 1.59), 'HEOFe', (2.125, -2.19), -0.151, -0.218)

fig.savefig('out.png', dpi=100)
